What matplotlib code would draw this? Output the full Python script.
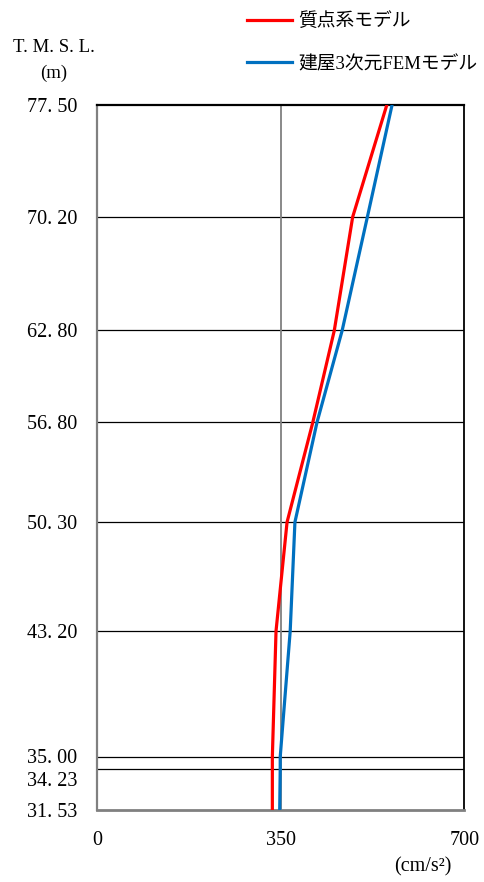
import matplotlib.pyplot as plt
from matplotlib.lines import Line2D
from matplotlib.transforms import ScaledTranslation

plt.rcParams['font.family'] = ['Liberation Serif', 'Noto Sans CJK JP']

# elevations (T.M.S.L., m)
levels = [77.50, 70.20, 62.80, 56.80, 50.30, 43.20, 35.00, 34.23, 31.53]
level_labels = ["77. 50", "70. 20", "62. 80", "56. 80", "50. 30",
                "43. 20", "35. 00", "34. 23", "31. 53"]

# max acceleration (cm/s2)
mass_model = [552, 487, 452, 411, 362, 341, 334, 334, 334]
fem_model = [562, 515, 467, 419, 377, 368, 349, 349, 348]

names = ["質点系モデル", "建屋3次元FEMモデル"]
colors = ["#ff0000", "#0070c0"]

fig = plt.figure(figsize=(4.85, 8.82), dpi=100)
ax = fig.add_axes([97 / 485, 1 - 810 / 882, 367.5 / 485, 705 / 882])

ax.plot(mass_model, levels, color=colors[0], lw=2.3, zorder=3)
ax.plot(fem_model, levels, color=colors[1], lw=2.3, zorder=3)

ax.set_xlim(0, 700)
ax.set_ylim(31.53, 77.50)
ax.set_xticks([0, 350, 700])
ax.set_xticklabels(["0", "350", "700"], fontsize=14.5)
ax.set_yticks(levels)
ax.set_yticklabels(level_labels, fontsize=14.5)
ax.tick_params(length=0)
ax.tick_params(axis='x', pad=15)
ax.tick_params(axis='y', pad=14)

# the two close labels are pushed apart like in the original
lbls = ax.get_yticklabels()
lbls[6].set_transform(lbls[6].get_transform() + ScaledTranslation(0, 1 / 100, fig.dpi_scale_trans))
lbls[7].set_transform(lbls[7].get_transform() + ScaledTranslation(0, -10 / 100, fig.dpi_scale_trans))

# horizontal lines at each floor level
for y in levels[1:-1]:
    ax.axhline(y, color='black', lw=0.9, zorder=1)
ax.axvline(350, color='#808080', lw=1.3, zorder=1)

ax.spines['left'].set_color('#808080')
ax.spines['bottom'].set_color('#808080')
ax.spines['left'].set_linewidth(1.6)
ax.spines['bottom'].set_linewidth(2.0)
ax.spines['top'].set_color('black')
ax.spines['top'].set_linewidth(1.6)
ax.spines['right'].set_color('black')
ax.spines['right'].set_linewidth(1.3)

fig.text(54 / 485, 1 - 47 / 882, "T. M. S. L.", fontsize=13.5, ha='center', va='center')
fig.text(54 / 485, 1 - 73 / 882, "(m)", fontsize=13.5, ha='center', va='center')
fig.text(423 / 485, 1 - 867 / 882, "(cm/s²)", fontsize=14.5, ha='center', va='center')

handles = [Line2D([], [], color=c, lw=2.3) for c in colors]
fig.legend(handles, names, loc='upper left', bbox_to_anchor=(240 / 485, 1 - 5 / 882),
           frameon=False, fontsize=13.5, handlelength=2.4, handletextpad=0.3,
           labelspacing=1.35, borderaxespad=0)

fig.savefig("out.png", dpi=100)
